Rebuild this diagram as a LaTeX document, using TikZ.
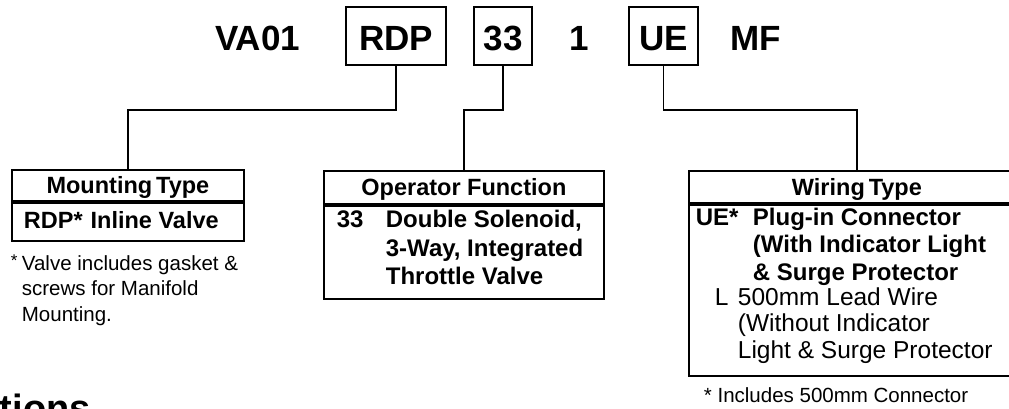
\documentclass[tikz,border=0pt]{standalone}
\usepackage{fontspec}
\setmainfont{Liberation Sans}
\newcommand{\codefnt}{\fontsize{35}{40}\selectfont\bfseries}
\newcommand{\titlefnt}{\fontsize{23.5}{28}\selectfont\bfseries}
\newcommand{\boldfnt}{\fontsize{24}{28}\selectfont\bfseries}
\newcommand{\regfnt}{\fontsize{24.5}{28}\selectfont}
\newcommand{\notefnt}{\fontsize{20.5}{25}\selectfont}
\newcommand{\headfnt}{\fontsize{38}{44}\selectfont\bfseries}
\begin{document}
\begin{tikzpicture}[x=1pt,y=-1pt,
  line width=1.8pt,
  codetxt/.style={font=\codefnt, inner sep=0pt, anchor=base},
  codebox/.style={draw, font=\codefnt, inner sep=0pt, minimum height=58pt, text height=28pt, text depth=0pt},
  titlebox/.style={draw, font=\titlefnt, inner sep=0pt, text height=17pt, text depth=0pt, anchor=north west},
  bodybox/.style={draw, inner sep=0pt, anchor=north west},
  btxt/.style={font=\boldfnt, inner sep=0pt, anchor=base west},
  rtxt/.style={font=\regfnt, inner sep=0pt, anchor=base west},
  ntxt/.style={font=\notefnt, inner sep=0pt, anchor=base west},
  conn/.style={line width=1.8pt}
]
\useasboundingbox (0,0) rectangle (1009,408);
\clip (0,0) rectangle (1009,408);

% model code
\node[codetxt] (va) at (257.5,50) {VA01};
\node[codebox, minimum width=100pt] (rdp) at (396,36) {RDP};
\node[codebox, minimum width=58pt] (c33) at (503,36) {33};
\node[codetxt] (one) at (579,50) {1};
\node[codebox, minimum width=69pt] (ue) at (663.5,36) {UE};
\node[codetxt] (mf) at (756,50) {MF};

% Mounting type
\node[titlebox, minimum width=232pt, minimum height=31pt] (mtitle) at (11,169) {Mounting\,Type};
\node[bodybox, minimum width=232pt, minimum height=38pt] (mbody) at (mtitle.south west) {};
\node[btxt, font=\fontsize{23.5}{28}\selectfont\bfseries] (m1) at (23,228) {RDP*\hspace{8pt}Inline Valve};
\node[ntxt, font=\fontsize{17}{20}\selectfont] (mstar) at (10,266) {*};
\node[ntxt] (mn1) at (21,270) {Valve includes gasket \&};
\node[ntxt] (mn2) at (21,295) {screws for Manifold};
\node[ntxt] (mn3) at (21,321) {Mounting.};

% Operator function
\node[titlebox, minimum width=280pt, minimum height=33pt] (otitle) at (323,170) {Operator Function};
\node[bodybox, minimum width=280pt, minimum height=93pt] (obody) at (otitle.south west) {};
\node[btxt] (o0) at (336,227) {33};
\node[btxt] (o1) at (385,227) {Double Solenoid,};
\node[btxt] (o2) at (385,256) {3-Way, Integrated};
\node[btxt] (o3) at (385,284) {Throttle Valve};

% Wiring type
\node[titlebox, minimum width=336pt, minimum height=32pt] (wtitle) at (688,170) {Wiring\,Type};
\node[bodybox, minimum width=336pt, minimum height=171pt] (wbody) at (wtitle.south west) {};
\node[btxt] (w0) at (695,225) {UE*};
\node[btxt] (w1) at (752,225) {Plug-in Connector};
\node[btxt] (w2) at (752,252) {(With Indicator Light};
\node[btxt] (w3) at (752,280) {\& Surge Protector};
\node[rtxt] (wl) at (714,305) {L};
\node[rtxt] (w4) at (737,305) {500mm Lead Wire};
\node[rtxt] (w5) at (737,331) {(Without Indicator};
\node[rtxt] (w6) at (737,358) {Light \& Surge Protector};
\node[ntxt] (wn) at (703,402) {* Includes 500mm Connector};

% clipped heading
\node[inner sep=0pt, anchor=base west, font=\headfnt] (hd) at (-1,421) {tions};

% connectors
\draw[conn] (rdp.south) -- ++(0,44) -| (mtitle.north);
\draw[conn] (c33.south) -- ++(0,44) -| (otitle.north);
\draw[conn] (ue.south) -- ++(0,44) -| (wtitle.north);
\end{tikzpicture}
\end{document}
